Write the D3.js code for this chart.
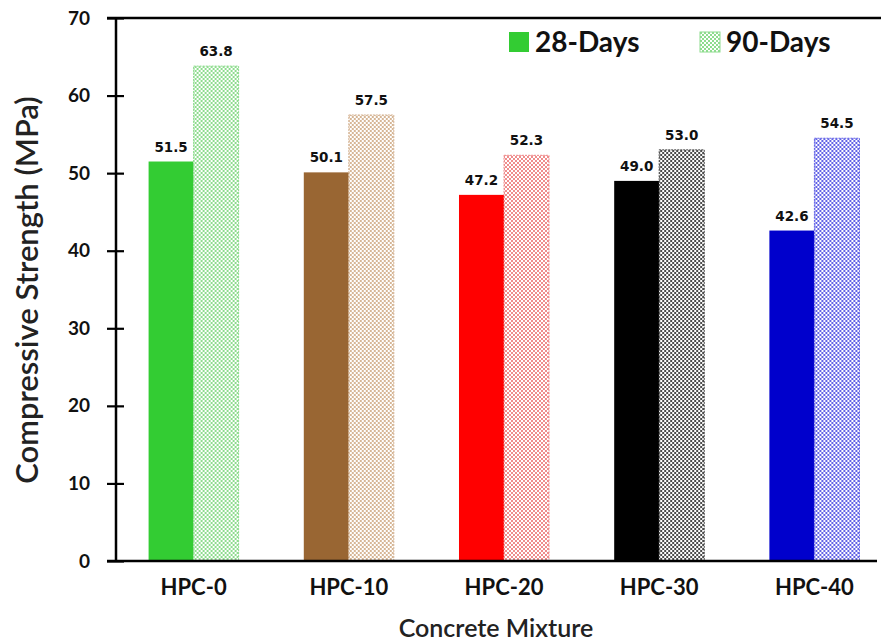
<!DOCTYPE html>
<html>
<head>
<meta charset="utf-8">
<script src="https://cdn.jsdelivr.net/npm/d3@7"></script>
<style>
  html, body { margin: 0; padding: 0; background: #fff; }
  svg { display: block; font-family: Lato, "Open Sans", "Noto Sans", sans-serif; }
</style>
</head>
<body>
<svg id="chart" width="881" height="644"></svg>
<script>
// Compressive strength of HPC mixtures at two curing ages
const mixtures = ["HPC-0", "HPC-10", "HPC-20", "HPC-30", "HPC-40"];
const days28 = [51.5, 50.1, 47.2, 49.0, 42.6];
const days90 = [63.8, 57.5, 52.3, 53.0, 54.5];
const seriesNames = ["28-Days", "90-Days"];
const yTicks = [0, 10, 20, 30, 40, 50, 60, 70];

// solid colour per mixture, and the pattern ink used for the 90-day bar
const solidColors = ["#33cc33", "#996633", "#ff0000", "#000000", "#0000cc"];
const patternInk = ["#8edc8e", "#d6b696", "#ef8c8c", "#4a4a4a", "#6262e6"];

const svg = d3.select("#chart");
const plotLeft = 116, plotTop = 18, plotBottom = 561, axisRight = 877;

const x = d3.scaleBand().domain(mixtures).range([plotLeft, plotLeft + 5 * 155.2]).paddingInner(0.42).paddingOuter(0.21);
const xSub = d3.scaleBand().domain(seriesNames).range([0, x.bandwidth()]);
const y = d3.scaleLinear().domain([0, 70]).range([plotBottom, plotTop]);

// checker patterns for the 90-day bars
const defs = svg.append("defs");
patternInk.forEach((c, i) => {
  const p = defs.append("pattern")
    .attr("id", "chk" + i)
    .attr("patternUnits", "userSpaceOnUse")
    .attr("width", 4).attr("height", 4);
  p.append("rect").attr("width", 4).attr("height", 4).attr("fill", "#fff");
  p.append("rect").attr("width", 2).attr("height", 2).attr("fill", c);
  p.append("rect").attr("x", 2).attr("y", 2).attr("width", 2).attr("height", 2).attr("fill", c);
});

// bars
const groups = svg.append("g").selectAll("g")
  .data(mixtures)
  .join("g")
  .attr("transform", d => `translate(${x(d)},0)`);

groups.append("rect")
  .attr("x", xSub("28-Days"))
  .attr("width", xSub.bandwidth())
  .attr("y", (d, i) => y(days28[i]))
  .attr("height", (d, i) => y(0) - y(days28[i]))
  .attr("fill", (d, i) => solidColors[i]);

groups.append("rect")
  .attr("x", xSub("90-Days"))
  .attr("width", xSub.bandwidth())
  .attr("y", (d, i) => y(days90[i]))
  .attr("height", (d, i) => y(0) - y(days90[i]))
  .attr("fill", (d, i) => `url(#chk${i})`)
  .attr("stroke", (d, i) => patternInk[i])
  .attr("stroke-width", 1)
  .attr("stroke-dasharray", "2,1");

// value labels
const valueFont = "'DejaVu Sans', Verdana, sans-serif";
groups.append("text")
  .attr("x", xSub("28-Days") + xSub.bandwidth() / 2)
  .attr("y", (d, i) => y(days28[i]) - 10)
  .attr("text-anchor", "middle")
  .attr("font-family", valueFont)
  .attr("font-size", 13.5).attr("font-weight", 700).attr("fill", "#111")
  .text((d, i) => days28[i].toFixed(1));

groups.append("text")
  .attr("x", xSub("90-Days") + xSub.bandwidth() / 2)
  .attr("y", (d, i) => y(days90[i]) - 10)
  .attr("text-anchor", "middle")
  .attr("font-family", valueFont)
  .attr("font-size", 13.5).attr("font-weight", 700).attr("fill", "#111")
  .text((d, i) => days90[i].toFixed(1));

// y axis
const yAxis = svg.append("g")
  .attr("transform", `translate(${plotLeft},0)`)
  .call(d3.axisLeft(y).tickValues(yTicks).tickSize(9).tickPadding(17));
yAxis.select(".domain").remove();
yAxis.selectAll(".tick line").attr("x2", -9).attr("x1", 8).attr("stroke", "#000").attr("stroke-width", 2.2);
yAxis.selectAll(".tick text").attr("font-size", 19).attr("font-weight", 700).attr("fill", "#111")
  .attr("font-family", "Lato, sans-serif");
svg.append("line").attr("x1", plotLeft).attr("x2", plotLeft).attr("y1", plotTop - 1).attr("y2", plotBottom + 1)
  .attr("stroke", "#000").attr("stroke-width", 2.5);

// top frame line and x axis
svg.append("line").attr("x1", plotLeft - 9).attr("x2", 881).attr("y1", plotTop).attr("y2", plotTop)
  .attr("stroke", "#000").attr("stroke-width", 2.5);
svg.append("line").attr("x1", plotLeft - 9).attr("x2", axisRight).attr("y1", plotBottom).attr("y2", plotBottom)
  .attr("stroke", "#000").attr("stroke-width", 2.5);

const xAxis = svg.append("g")
  .attr("transform", `translate(0,${plotBottom})`)
  .call(d3.axisBottom(x).tickSize(0).tickPadding(0));
xAxis.select(".domain").remove();
xAxis.selectAll(".tick text")
  .attr("y", 34).attr("dy", null)
  .attr("font-size", 22).attr("font-weight", 700).attr("fill", "#111")
  .attr("font-family", "Lato, sans-serif");

// axis titles
svg.append("text")
  .attr("transform", `translate(38,290) rotate(-90)`)
  .attr("text-anchor", "middle")
  .attr("font-size", 31).attr("font-weight", 600).attr("fill", "#222")
  .text("Compressive Strength (MPa)");

svg.append("text")
  .attr("x", 496)
  .attr("y", 637)
  .attr("text-anchor", "middle")
  .attr("font-size", 25).attr("font-weight", 600).attr("fill", "#222")
  .text("Concrete Mixture");

// legend
const legend = svg.append("g");
const legendX = [509, 700];
seriesNames.forEach((s, i) => {
  legend.append("rect")
    .attr("x", legendX[i]).attr("y", 32).attr("width", 20).attr("height", 20)
    .attr("fill", i === 0 ? solidColors[0] : "url(#chk0)")
    .attr("stroke", i === 0 ? "none" : patternInk[0]);
  legend.append("text")
    .attr("x", legendX[i] + 26).attr("y", 52)
    .attr("font-size", 28).attr("font-weight", 700).attr("fill", "#111")
    .text(s);
});
</script>
</body>
</html>
